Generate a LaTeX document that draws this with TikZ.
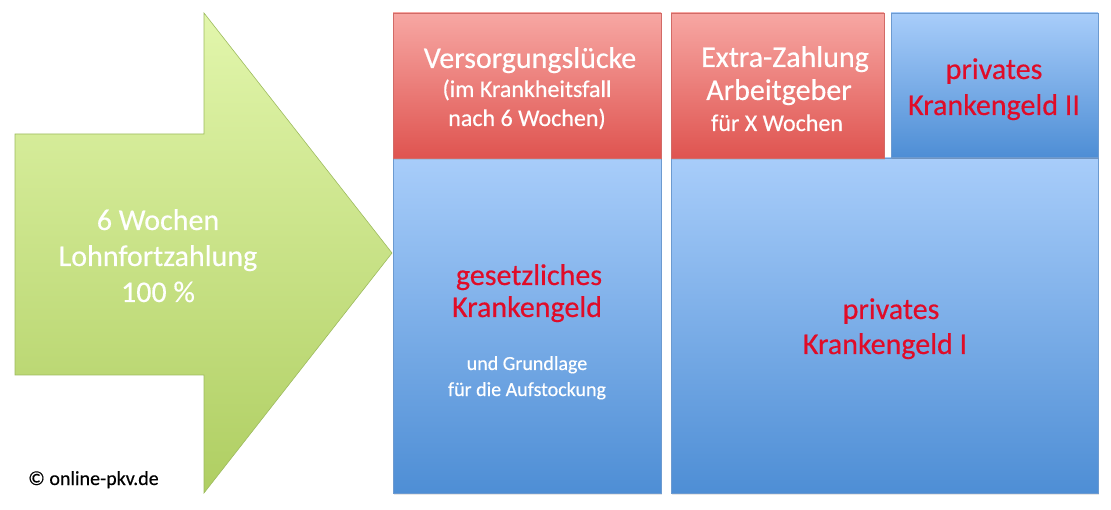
\documentclass[tikz,border=0pt]{standalone}
\usepackage{fontspec}
\setmainfont{Carlito}[FakeBold=0.4]
\usetikzlibrary{shadows}
\definecolor{redtop}{HTML}{F7A7A3}
\definecolor{redbot}{HTML}{DF5450}
\definecolor{redline}{HTML}{D26A66}
\definecolor{bluetop}{HTML}{A8CDFA}
\definecolor{bluebot}{HTML}{4E8ED5}
\definecolor{blueline}{HTML}{6C9AD0}
\definecolor{greentop}{HTML}{E2F6AC}
\definecolor{greenbot}{HTML}{AFCE62}
\definecolor{greenline}{HTML}{9DBB5E}
\definecolor{redtext}{HTML}{E00C28}
\tikzset{
  redbox/.style={draw=redline, line width=0.6pt, top color=redtop, bottom color=redbot,
    drop shadow={opacity=0.2, shadow xshift=1pt, shadow yshift=-2pt}},
  bluebox/.style={draw=blueline, line width=0.6pt, top color=bluetop, bottom color=bluebot,
    drop shadow={opacity=0.2, shadow xshift=1pt, shadow yshift=-2pt}},
  big/.style={font=\fontsize{30}{35}\selectfont, inner sep=0pt, anchor=base},
  mid/.style={font=\fontsize{24}{29}\selectfont, inner sep=0pt, anchor=base},
  small/.style={font=\fontsize{20}{24}\selectfont, inner sep=0pt, anchor=base},
}
\begin{document}
\begin{tikzpicture}[x=1pt,y=-1pt]
\useasboundingbox (0,0) rectangle (1111,510);
% arrow
\shade[draw=greenline, line width=0.6pt, top color=greentop, bottom color=greenbot]
  (15,134) -- (204,134) -- (204,13) -- (392,253) -- (204,493) -- (204,375) -- (15,375) -- cycle;
\node[big, white] (a1) at (158,230) {6 Wochen};
\node[big, white] (a2) at (158,266) {Lohnfortzahlung};
\node[big, white] (a3) at (158,302) {100 \%};
% boxes
\path[bluebox] (393,158) rectangle (661,493);
\path[redbox] (393,13) rectangle (661,158);
\path[bluebox] (671,158) rectangle (1098,493);
\path[redbox] (671,13) rectangle (884,158);
\path[bluebox] (891,13) rectangle (1098,157);
% texts box 1
\node[big, white] (v1) at (530,68) {Versorgungslücke};
\node[mid, white] (v2) at (527,97) {(im Krankheitsfall};
\node[mid, white] (v3) at (527,126) {nach 6 Wochen)};
\node[big, redtext] (g1) at (529,285) {gesetzliches};
\node[big, redtext] (g2) at (527,317) {Krankengeld};
\node[small, white] (g3) at (527,370) {und Grundlage};
\node[small, white] (g4) at (527,396) {für die Aufstockung};
% texts box 2
\node[big, white] (e1) at (785,67) {Extra-Zahlung};
\node[big, white] (e2) at (779,100) {Arbeitgeber};
\node[mid, white] (e3) at (777,131) {für X Wochen};
% texts box 3
\node[big, redtext] (p1) at (994,79) {privates};
\node[big, redtext] (p2) at (994,115) {Krankengeld II};
% texts big box
\node[big, redtext] (q1) at (891,319) {privates};
\node[big, redtext] (q2) at (885,354) {Krankengeld I};
% copyright
\node[small, anchor=base west] (c) at (28,485) {© online-pkv.de};
\end{tikzpicture}
\end{document}
